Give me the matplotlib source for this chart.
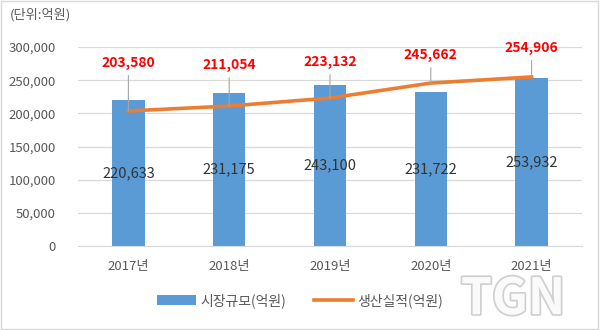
import numpy as np
import matplotlib
matplotlib.use("Agg")
import matplotlib.pyplot as plt
import matplotlib.patheffects as pe
from matplotlib.patches import Rectangle

plt.rcParams['font.family'] = ['Noto Sans CJK KR', 'DejaVu Sans']

years = ['2017년', '2018년', '2019년', '2020년', '2021년']
market = [220633, 231175, 243100, 231722, 253932]
production = [203580, 211054, 223132, 245662, 254906]
yticks = [0, 50000, 100000, 150000, 200000, 250000, 300000]

# label offsets above the line points (pixels)
red_off = [41, 34, 29, 21, 22]

fig = plt.figure(figsize=(6, 3.3), dpi=100)
ax = fig.add_axes([0.13, 0.2545, 0.84, 0.603])
x = np.arange(len(years))

ax.bar(x, market, width=0.32, color='#5B9BD5', zorder=2, label='시장규모(억원)')
ax.plot(x, production, color='#ED7D31', lw=2.6, zorder=3, label='생산실적(억원)')

for i, v in enumerate(market):
    ax.text(x[i], v / 2, f'{v:,}', ha='center', va='center',
            fontsize=10.5, color='#333333', fontweight='medium', zorder=4)

for i, v in enumerate(production):
    off = red_off[i] * 0.72
    ax.annotate(f'{v:,}', xy=(x[i], v), xytext=(0, off), textcoords='offset points',
                ha='center', va='bottom', fontsize=10, fontweight='bold', color='#FF0000',
                arrowprops=dict(arrowstyle='-', color='#A6A6A6', lw=0.8,
                                shrinkA=2, shrinkB=0), zorder=5)

ax.set_xlim(-0.5, 4.5)
ax.set_ylim(0, 300000)
ax.set_yticks(yticks)
ax.set_yticklabels([f'{t:,}' for t in yticks], fontsize=9.5, color='#595959')
ax.set_xticks(x)
ax.set_xticklabels(years, fontsize=9.5, color='#595959')
ax.tick_params(length=0, pad=10)
ax.tick_params(axis='y', pad=16)
ax.grid(axis='y', color='#D9D9D9', lw=0.9, zorder=0)
for s in ax.spines.values():
    s.set_visible(False)
ax.spines['bottom'].set_visible(True)
ax.spines['bottom'].set_color('#D9D9D9')

fig.text(0.017, 0.955, '(단위:억원)', fontsize=9.5, color='#595959', va='center')

h, l = ax.get_legend_handles_labels()
leg = fig.legend(h[::-1], l[::-1], loc='center', bbox_to_anchor=(0.5, 0.09), ncol=2,
                 frameon=False, fontsize=10, handlelength=2.8, columnspacing=2.0,
                 handletextpad=0.3)
for t in leg.get_texts():
    t.set_color('#595959')

# watermark
wm = fig.text(0.855, 0.092, 'TGN', fontsize=36, fontweight='bold', color='#FAFAFA',
              ha='center', va='center')
wm.set_path_effects([pe.withStroke(linewidth=2.5, foreground='#D0D0D0')])

fig.patches.append(Rectangle((0.002, 0.003), 0.995, 0.993, transform=fig.transFigure,
                             fill=False, edgecolor='#D9D9D9', lw=1))

fig.savefig('out.png', dpi=100)
